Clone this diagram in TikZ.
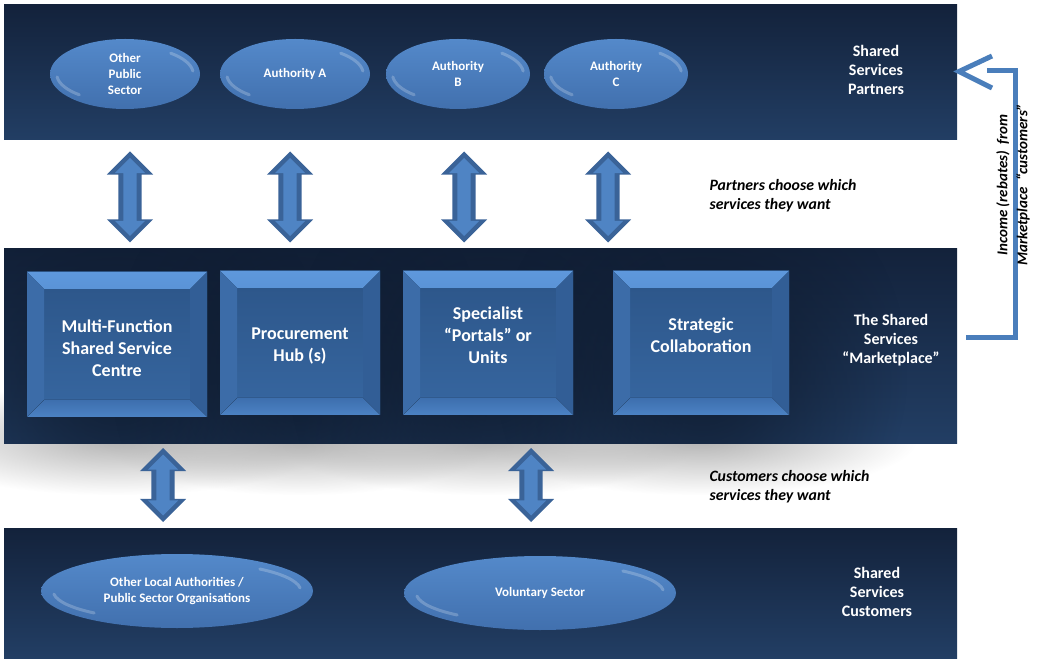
\documentclass[tikz,border=0pt]{standalone}
\usepackage{fontspec}
\setmainfont{Carlito}
\usetikzlibrary{shapes.geometric,shapes.arrows,calc,fadings}

\definecolor{banddark}{HTML}{13223B}
\definecolor{bandlight}{HTML}{223E64}
\definecolor{bandshade}{HTML}{0E1A2D}
\definecolor{partyhi}{HTML}{5489CA}
\definecolor{partylo}{HTML}{4170AE}
\definecolor{facetop}{HTML}{2C5588}
\definecolor{facebot}{HTML}{3767A1}
\definecolor{bevhi}{HTML}{5E98DC}
\definecolor{bevtop}{HTML}{3E71B0}
\definecolor{bevleft}{HTML}{3C6CA8}
\definecolor{bevright}{HTML}{325E96}
\definecolor{bevbot}{HTML}{3D6FAE}
\definecolor{bevbotlight}{HTML}{4C82C4}
\definecolor{arrowedge}{HTML}{3A6398}
\definecolor{arrowfill}{HTML}{4F84C4}
\definecolor{incomeblue}{HTML}{4A7EBB}

\tikzfading[name=softblob, inner color=transparent!0, outer color=transparent!100]
\def\ppb{path picture bounding box}

\begin{document}
\begin{tikzpicture}[x=1pt, y=1pt,
  band/.style={top color=banddark, bottom color=bandlight},
  party/.style={ellipse, inner sep=0pt, top color=partyhi, bottom color=partylo,
    text=white, align=center, font=\bfseries\fontsize{13}{16}\selectfont,
    path picture={
      \draw[white, opacity=.22, line width=3pt, line cap=round]
        let \p1=($(\ppb.north east)-(\ppb.center)$) in
        ($(\ppb.center)+(6:{0.91*\x1} and {0.8*\y1})$)
          arc[start angle=6, end angle=48, x radius=0.91*\x1, y radius=0.8*\y1]
        ($(\ppb.center)+(186:{0.91*\x1} and {0.8*\y1})$)
          arc[start angle=186, end angle=228, x radius=0.91*\x1, y radius=0.8*\y1];
    }},
  panel/.style={rectangle, inner sep=0pt, minimum height=144pt, top color=facetop, bottom color=facebot,
    path picture={
      % bevelled rim
      \fill[top color=bevhi, bottom color=bevtop] (\ppb.north west) -- (\ppb.north east)
        -- ([xshift=-17pt,yshift=-17pt]\ppb.north east) -- ([xshift=17pt,yshift=-17pt]\ppb.north west) -- cycle;
      \fill[bevleft] (\ppb.north west) -- ([xshift=17pt,yshift=-17pt]\ppb.north west)
        -- ([xshift=17pt,yshift=17pt]\ppb.south west) -- (\ppb.south west) -- cycle;
      \fill[bevright] (\ppb.north east) -- ([xshift=-17pt,yshift=-17pt]\ppb.north east)
        -- ([xshift=-17pt,yshift=17pt]\ppb.south east) -- (\ppb.south east) -- cycle;
      \fill[top color=bevbot, bottom color=bevbotlight] (\ppb.south west) -- ([xshift=17pt,yshift=17pt]\ppb.south west)
        -- ([xshift=-17pt,yshift=17pt]\ppb.south east) -- (\ppb.south east) -- cycle;
    }},
  paneltext/.style={text=white, align=center, font=\bfseries\fontsize{18}{22}\selectfont},
  bandlabel/.style={text=white, align=center, font=\bfseries\fontsize{16}{19}\selectfont},
  note/.style={anchor=west, align=left, font=\bfseries\itshape\fontsize{15.8}{19}\selectfont},
  dblarrow/.style={double arrow, rotate=90, fill=arrowedge, inner xsep=0pt, inner ysep=11.5pt,
    double arrow head extend=11.5pt, minimum height=91pt},
  dblarrow in/.style={double arrow, rotate=90, fill=arrowfill, inner xsep=0pt, inner ysep=6.5pt,
    double arrow head extend=8.5pt, minimum height=78pt},
  income/.style={draw=incomeblue, line width=5pt}]

  \useasboundingbox (0,0) rectangle (1038,659);

  % Soft shadows under the marketplace band
  \foreach \cx/\w in {117/180, 300/160, 488/170, 701/176}
    \fill[black!30, path fading=softblob]
      (\cx-\w-40, 220-56) rectangle (\cx+\w+40, 220+56);

  % Bands
  \fill[band] (4,519) rectangle (957,654);
  \fill[band] (4,216) rectangle (957,410);
  \fill[band] (4,1) rectangle (957,131);

  % Darker glow round the panels
  \begin{scope}
    \clip (4,216) rectangle (957,410);
    \foreach \cx/\w in {117/180, 300/160, 488/170, 701/176}
      \fill[bandshade, opacity=.9, path fading=softblob]
        (\cx-\w-30, 290-220) rectangle (\cx+\w+30, 290+220);
  \end{scope}

  % Partners
  \node[party, minimum width=150pt, minimum height=70pt] (ops) at (125,585) {Other\\Public\\Sector};
  \node[party, minimum width=150pt, minimum height=70pt] (autha) at (295,585) {Authority A};
  \node[party, minimum width=144pt, minimum height=70pt] (authb) at (458,585) {Authority\\B};
  \node[party, minimum width=144pt, minimum height=70pt] (authc) at (616,585) {Authority\\C};
  \node[bandlabel] (partners) at (876,589) {Shared\\Services\\Partners};

  % Marketplace panels
  \node[panel, minimum width=180pt, minimum height=145pt] (mfsc) at (117,314.5) {};
  \node[paneltext] (mfsc-txt) at (117,311) {Multi-Function\\Shared Service\\Centre};
  \node[panel, minimum width=160pt] (hub) at (300,316) {};
  \node[paneltext] (hub-txt) at (300,313) {Procurement\\Hub (s)};
  \node[panel, minimum width=170pt] (portals) at (488,316) {};
  \node[paneltext] (portals-txt) at (488,324) {Specialist\\“Portals” or\\Units};
  \node[panel, minimum width=176pt] (collab) at (701,316) {};
  \node[paneltext] (collab-txt) at (701,324) {Strategic\\Collaboration};
  \node[bandlabel] (market) at (891,319) {The Shared\\Services\\“Marketplace”};

  % Customers
  \node[party, minimum width=272pt, minimum height=74pt] (ola) at (177,68) {Other Local Authorities /\\Public Sector Organisations};
  \node[party, minimum width=272pt, minimum height=74pt] (vol) at (540,66) {Voluntary Sector};
  \node[bandlabel] (customers) at (877,67) {Shared\\Services\\Customers};

  % Two-way choices
  \foreach \x [count=\i] in {130, 290, 464, 608} {
    \node[dblarrow] (up\i) at (\x,462) {};
    \node[dblarrow in] (up\i-in) at (up\i.center) {};
  }
  \foreach \x [count=\i] in {163, 531} {
    \node[dblarrow, minimum height=74pt] (down\i) at (\x,174) {};
    \node[dblarrow in, minimum height=61pt] (down\i-in) at (down\i.center) {};
  }

  \node[note] (pnote) at (706,463.5) {Partners choose which\\services they want};
  \node[note] (cnote) at (706,172.5) {Customers choose which\\services they want};

  % Income loop back to the partners
  \coordinate (inc-from) at (966,321);
  \coordinate (inc-top) at (1015,588);
  \coordinate (inc-end) at (987,588);
  \coordinate (chev-a) at (992,603);
  \coordinate (chev-tip) at (959,587.5);
  \coordinate (chev-b) at (992,571);
  \draw[income] (inc-from) -| (inc-top) -- (inc-end);
  \draw[income, line join=miter] (chev-a) -- (chev-tip) -- (chev-b);
  \node[rotate=90, align=center, font=\bfseries\itshape\fontsize{15}{20}\selectfont] (income-txt)
    at (1013,474) {Income (rebates)\ \ from\\Marketplace\ \ “customers”};

\end{tikzpicture}
\end{document}
